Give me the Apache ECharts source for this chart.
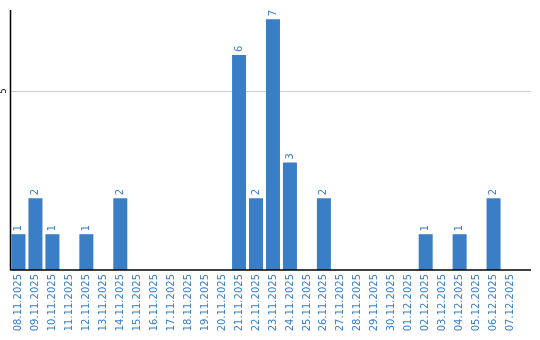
<!DOCTYPE html>
<html><head><meta charset="utf-8">
<script src="https://cdn.jsdelivr.net/npm/echarts@6/dist/echarts.min.js"></script>
<style>html,body{margin:0;padding:0;background:#fff}#c{width:540px;height:340px}</style>
</head><body><div id="c"></div>
<script>
var categories = ["08.11.2025","09.11.2025","10.11.2025","11.11.2025","12.11.2025","13.11.2025","14.11.2025","15.11.2025","16.11.2025","17.11.2025","18.11.2025","19.11.2025","20.11.2025","21.11.2025","22.11.2025","23.11.2025","24.11.2025","25.11.2025","26.11.2025","27.11.2025","28.11.2025","29.11.2025","30.11.2025","01.12.2025","02.12.2025","03.12.2025","04.12.2025","05.12.2025","06.12.2025","07.12.2025"];
var values = [1,2,1,0,1,0,2,0,0,0,0,0,0,6,2,7,3,0,2,0,0,0,0,0,1,0,1,0,2,0];
var yTicks = [5];
var chart = echarts.init(document.getElementById('c'), null, {renderer:'canvas'});
var blue = '#3a7ec6';
var plotLeft = 9, plotRight = 519, axisEnd = 531;
chart.setOption({
  animation:false,
  grid:{left:plotLeft, right:540-plotRight, top:10, bottom:70, containLabel:false},
  xAxis:{type:'category', data:categories, boundaryGap:true,
    axisLine:{show:false}, axisTick:{show:false},
    axisLabel:{rotate:90, interval:0, color:blue, fontFamily:'DejaVu Sans', fontSize:10, margin:4}},
  yAxis:{type:'value', min:0, max:7.26, interval:5,
    axisLine:{show:false}, axisTick:{show:false},
    splitLine:{show:false},
    axisLabel:{showMinLabel:false, showMaxLabel:false, rotate:90, color:'#000', fontFamily:'DejaVu Sans', fontSize:8, margin:2,
      formatter:function(v){return yTicks.indexOf(v)>=0?String(v):'';}}},
  series:[{type:'bar', data:values, barWidth:14, itemStyle:{color:blue},
    label:{show:true, position:'top', rotate:90, align:'left', verticalAlign:'middle', distance:3,
      color:blue, fontFamily:'DejaVu Sans', fontSize:10,
      formatter:function(p){return p.value?String(p.value):'';}}}]
});
var g = [];
var y0 = Math.round(chart.convertToPixel({yAxisIndex:0}, 0));
var yTop = Math.round(chart.convertToPixel({yAxisIndex:0}, 7.26));
g.push({type:'line', z:10, shape:{x1:10.5, y1:yTop, x2:10.5, y2:y0}, style:{stroke:'#000', lineWidth:1.5}});
g.push({type:'line', z:10, shape:{x1:10, y1:y0, x2:axisEnd, y2:y0}, style:{stroke:'#000', lineWidth:1.5}});
yTicks.forEach(function(t){
  var y = Math.round(chart.convertToPixel({yAxisIndex:0}, t)) + 0.5;
  g.push({type:'line', z:-1, shape:{x1:10, y1:y, x2:axisEnd, y2:y}, style:{stroke:'#ccc', lineWidth:1}});
});
chart.setOption({graphic:g});
</script></body></html>
